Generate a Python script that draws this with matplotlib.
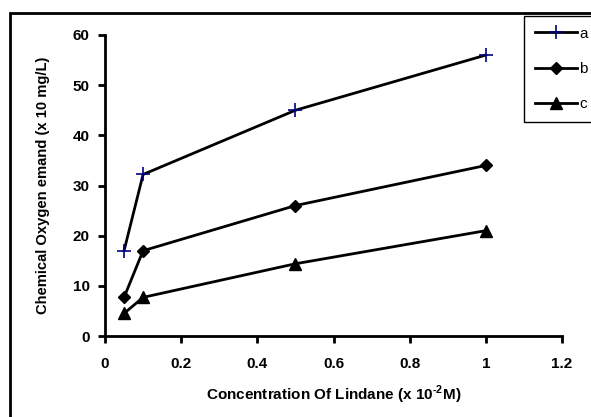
import matplotlib
matplotlib.use('Agg')
import matplotlib.pyplot as plt
from matplotlib.patches import Rectangle
from matplotlib.lines import Line2D

conc = [0.05, 0.1, 0.5, 1.0]
cod_a = [17, 32.2, 45, 56]
cod_b = [7.7, 17, 26, 34]
cod_c = [4.5, 7.7, 14.4, 21]
xticks = [0, 0.2, 0.4, 0.6, 0.8, 1, 1.2]
xticklabels = ['0', '0.2', '0.4', '0.6', '0.8', '1', '1.2']
yticks = [0, 10, 20, 30, 40, 50, 60]

plt.rcParams['font.family'] = ['Liberation Sans', 'DejaVu Sans']
plt.rcParams['mathtext.fontset'] = 'custom'
plt.rcParams['mathtext.bf'] = 'Liberation Sans:bold'
plt.rcParams['mathtext.rm'] = 'Liberation Sans:bold'

fig = plt.figure(figsize=(5.91, 4.17), dpi=100)
W, H = 591, 417
ax = fig.add_axes([105/W, 1 - 336/H, (562-105)/W, (336-35)/H])

ax.plot(conc, cod_a, color='black', lw=2, marker='+', ms=10, mec='#000080', mew=1.2)
ax.plot(conc, cod_b, color='black', lw=2, marker='D', ms=6, mfc='black', mec='black')
ax.plot(conc, cod_c, color='black', lw=2, marker='^', ms=8, mfc='black', mec='black')

ax.set_xlim(0, 1.2)
ax.set_ylim(0, 60)
ax.set_xticks(xticks)
ax.set_xticklabels(xticklabels)
ax.set_yticks(yticks)
for s in ['top', 'right']:
    ax.spines[s].set_visible(False)
for s in ['left', 'bottom']:
    ax.spines[s].set_linewidth(2)
ax.tick_params(direction='out', length=5, width=2, labelsize=11)
ax.tick_params(axis='x', pad=10)
ax.tick_params(axis='y', pad=6)
for lab in ax.get_xticklabels() + ax.get_yticklabels():
    lab.set_fontweight('bold')

ax.set_xlabel('Concentration Of Lindane (x 10$^{\\text{-2}}$M)', fontsize=11,
              fontweight='bold', labelpad=9)
ax.set_ylabel('Chemical Oxygen emand (x 10 mg/L)', fontsize=10.6,
              fontweight='bold', labelpad=16)

# outer frame
fig.patches.append(Rectangle((10/W, -0.1), 1.0, 1 - 13/H + 0.1, transform=fig.transFigure,
                             fill=False, lw=2, ec='black'))

handles = [Line2D([], [], color='black', lw=2, marker='+', ms=10, mec='#000080', mew=1.2),
           Line2D([], [], color='black', lw=2, marker='D', ms=6, mfc='black'),
           Line2D([], [], color='black', lw=2, marker='^', ms=8, mfc='black')]
leg = fig.legend(handles, ['a', 'b', 'c'], loc='upper left',
                 bbox_to_anchor=(524/W, 1 - 16/H), fancybox=False, framealpha=1,
                 edgecolor='black', fontsize=11, handlelength=2.8, handletextpad=0.1,
                 labelspacing=1.4, borderpad=0.7, borderaxespad=0)
leg.get_frame().set_linewidth(1)

fig.savefig('out.png', dpi=100)
